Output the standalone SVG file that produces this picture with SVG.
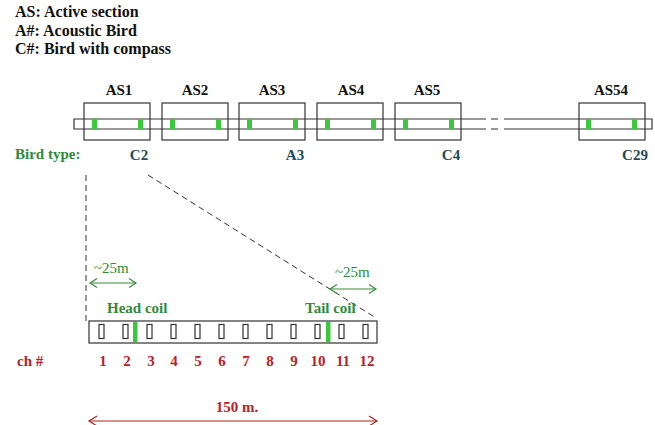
<svg xmlns="http://www.w3.org/2000/svg" width="655" height="425" viewBox="0 0 655 425" font-family="'Liberation Serif', 'Times New Roman', Times, 'DejaVu Serif', serif" font-size="15">
  <defs>
    <style>
      .b { font-weight: bold; }
      .legend { fill: #111; font-weight: bold; font-size: 16px; }
      .as { fill: #111; font-weight: bold; text-anchor: middle; }
      .bird { fill: #1f4a58; font-weight: bold; text-anchor: middle; }
      .green { fill: #2f8a3a; }
      .red { fill: #b8202a; font-weight: bold; }
      .num { fill: #b8202a; font-weight: bold; text-anchor: middle; }
      .box { fill: none; stroke: #333; stroke-width: 1.2; }
      .cell { fill: #fff; stroke: #333; stroke-width: 1.2; }
      .mark { fill: #3cc83c; }
      .dash { fill: none; stroke: #333; stroke-width: 1; stroke-dasharray: 6 4; }
    </style>
    <marker id="chevG" viewBox="-10 -6 12 12" markerWidth="12" markerHeight="12" refX="0" refY="0" orient="auto-start-reverse" markerUnits="userSpaceOnUse">
      <path d="M-7,-4.5 L0,0 L-7,4.5" fill="none" stroke="#3a8a3a" stroke-width="1.2"/>
    </marker>
    <marker id="chevR" viewBox="-10 -6 12 12" markerWidth="12" markerHeight="12" refX="0" refY="0" orient="auto-start-reverse" markerUnits="userSpaceOnUse">
      <path d="M-8,-5 L0,0 L-8,5" fill="none" stroke="#b02020" stroke-width="1.2"/>
    </marker>
  </defs>

  <rect width="655" height="425" fill="#fff"/>

  <!-- legend -->
  <g id="legend">
    <text class="legend" x="15" y="17">AS: Active section</text>
    <text class="legend" x="15" y="35.5">A#: Acoustic Bird</text>
    <text class="legend" x="15" y="54">C#: Bird with compass</text>
  </g>

  <!-- streamer cable with a break before the last section -->
  <g id="cable">
    <path class="box" d="M486,119 H74 V129 H486 M491,119 H498 M491,129 H498 M504,119 H652 V129 H504"/>
  </g>

  <!-- active sections -->
  <g id="as1">
    <rect class="box" x="84" y="103" width="66" height="37"/>
    <rect class="mark" x="92" y="119" width="5" height="10"/>
    <rect class="mark" x="138" y="119" width="5" height="10"/>
    <text class="as" x="119" y="95">AS1</text>
  </g>
  <g id="as2">
    <rect class="box" x="162" y="103" width="66" height="37"/>
    <rect class="mark" x="170" y="119" width="5" height="10"/>
    <rect class="mark" x="216" y="119" width="5" height="10"/>
    <text class="as" x="195" y="95">AS2</text>
  </g>
  <g id="as3">
    <rect class="box" x="239" y="103" width="66" height="37"/>
    <rect class="mark" x="247" y="119" width="5" height="10"/>
    <rect class="mark" x="293" y="119" width="5" height="10"/>
    <text class="as" x="272" y="95">AS3</text>
  </g>
  <g id="as4">
    <rect class="box" x="317" y="103" width="66" height="37"/>
    <rect class="mark" x="325" y="119" width="5" height="10"/>
    <rect class="mark" x="371" y="119" width="5" height="10"/>
    <text class="as" x="351" y="95">AS4</text>
  </g>
  <g id="as5">
    <rect class="box" x="395" y="103" width="66" height="37"/>
    <rect class="mark" x="403" y="119" width="5" height="10"/>
    <rect class="mark" x="449" y="119" width="5" height="10"/>
    <text class="as" x="427" y="95">AS5</text>
  </g>
  <g id="as54">
    <rect class="box" x="579" y="103" width="66" height="37"/>
    <rect class="mark" x="586" y="119" width="5" height="10"/>
    <rect class="mark" x="632" y="119" width="5" height="10"/>
    <text class="as" x="611" y="95">AS54</text>
  </g>

  <!-- bird types -->
  <g id="bird-types">
    <text class="green b" x="15" y="159">Bird type:</text>
    <text class="bird" x="139" y="160">C2</text>
    <text class="bird" x="295" y="160">A3</text>
    <text class="bird" x="451" y="160">C4</text>
    <text class="bird" x="635" y="160">C29</text>
  </g>

  <!-- zoom-in guides and dimension arrows -->
  <g id="connectors">
    <line class="dash" x1="86" y1="175" x2="86" y2="321"/>
    <line class="dash" x1="148" y1="175" x2="376" y2="318"/>
    <line x1="90" y1="283" x2="136" y2="283" stroke="#3a8a3a" stroke-width="1.2" marker-start="url(#chevG)" marker-end="url(#chevG)"/>
    <line x1="330" y1="289" x2="376" y2="289" stroke="#3a8a3a" stroke-width="1.2" marker-start="url(#chevG)" marker-end="url(#chevG)"/>
    <line x1="89" y1="421" x2="377" y2="421" stroke="#b02020" stroke-width="1.2" marker-start="url(#chevR)" marker-end="url(#chevR)"/>
  </g>

  <!-- one active section, enlarged -->
  <g id="section-detail">
    <rect class="box" x="89" y="321" width="288" height="22"/>
    <rect class="cell" x="99" y="324.5" width="5" height="14"/>
    <rect class="cell" x="123" y="324.5" width="5" height="14"/>
    <rect class="cell" x="147" y="324.5" width="5" height="14"/>
    <rect class="cell" x="171" y="324.5" width="5" height="14"/>
    <rect class="cell" x="195" y="324.5" width="5" height="14"/>
    <rect class="cell" x="219" y="324.5" width="5" height="14"/>
    <rect class="cell" x="243" y="324.5" width="5" height="14"/>
    <rect class="cell" x="267" y="324.5" width="5" height="14"/>
    <rect class="cell" x="291" y="324.5" width="5" height="14"/>
    <rect class="cell" x="315" y="324.5" width="5" height="14"/>
    <rect class="cell" x="339" y="324.5" width="5" height="14"/>
    <rect class="cell" x="363" y="324.5" width="5" height="14"/>
    <rect class="mark" x="133" y="322" width="4.5" height="20"/>
    <rect class="mark" x="326" y="322" width="4.5" height="20"/>
  </g>

  <g id="labels">
    <text class="green" x="94" y="273">~25m</text>
    <text class="green" x="335" y="277">~25m</text>
    <text class="green b" x="107" y="313">Head coil</text>
    <text class="green b" x="305" y="313">Tail coil</text>
    <text class="red" x="17" y="366">ch #</text>
    <text class="num" x="103" y="366">1</text>
    <text class="num" x="127" y="366">2</text>
    <text class="num" x="151" y="366">3</text>
    <text class="num" x="174" y="366">4</text>
    <text class="num" x="198" y="366">5</text>
    <text class="num" x="222" y="366">6</text>
    <text class="num" x="246" y="366">7</text>
    <text class="num" x="270" y="366">8</text>
    <text class="num" x="294" y="366">9</text>
    <text class="num" x="318" y="366">10</text>
    <text class="num" x="343" y="366">11</text>
    <text class="num" x="367" y="366">12</text>
    <text class="red" x="237" y="412" text-anchor="middle">150 m.</text>
  </g>
</svg>
